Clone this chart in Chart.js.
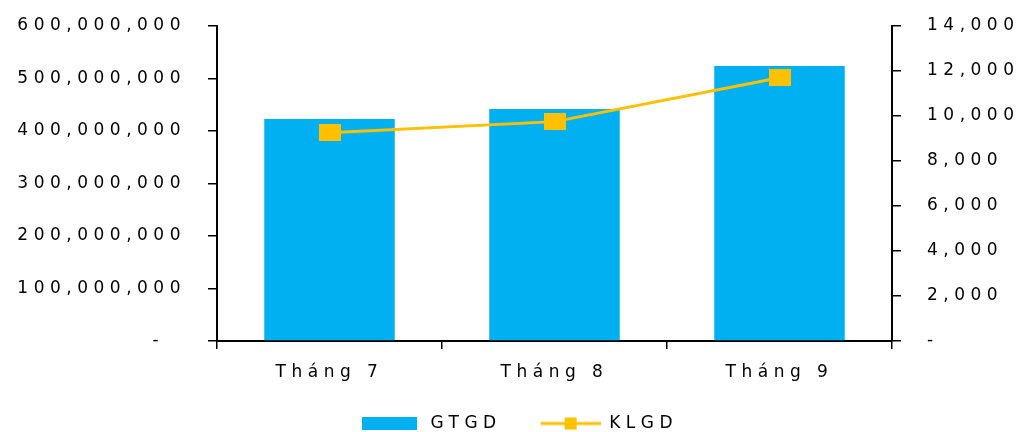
<!DOCTYPE html>
<html>
<head>
<meta charset="utf-8">
<script src="https://cdn.jsdelivr.net/npm/chart.js@4/dist/chart.umd.min.js"></script>
<style>
  html, body { margin: 0; padding: 0; background: #fff; }
</style>
</head>
<body>
<canvas id="chart" width="1024" height="432"></canvas>
<script>
const months = ['Tháng 7', 'Tháng 8', 'Tháng 9'];
const gtgdValues = [423000000, 442000000, 524000000];
const klgdValues = [9260, 9750, 11700];

const BLUE = '#00B0F0';
const GOLD = '#FFC000';
const SPACING = '5.5px';
const SWATCH_W = 76;

Chart.defaults.font.family = 'DejaVu Sans, Arial, sans-serif';
Chart.defaults.font.size = 17;
Chart.defaults.color = '#000';

// small canvases used as marker / legend swatches
function box(w, h, color) {
  const c = document.createElement('canvas');
  c.width = w; c.height = h;
  const g = c.getContext('2d');
  g.fillStyle = color;
  g.fillRect(0, 0, w, h);
  return c;
}
function barSwatch() {
  const c = document.createElement('canvas');
  c.width = SWATCH_W; c.height = 13;
  const g = c.getContext('2d');
  g.fillStyle = BLUE;
  g.fillRect(16, 0, 55, 13);
  return c;
}
function lineSwatch() {
  const c = document.createElement('canvas');
  c.width = SWATCH_W; c.height = 14;
  const g = c.getContext('2d');
  g.strokeStyle = GOLD;
  g.lineWidth = 3;
  g.beginPath();
  g.moveTo(16, 7);
  g.lineTo(SWATCH_W, 7);
  g.stroke();
  g.fillStyle = GOLD;
  g.fillRect(40, 1, 12, 12);
  return c;
}

// the original text is drawn very wide, spread the letters a bit
const wideText = {
  id: 'wideText',
  beforeUpdate(chart) { chart.ctx.letterSpacing = SPACING; },
  beforeDraw(chart) { chart.ctx.letterSpacing = SPACING; }
};

// fixed width for the value axes, and no extra room above the top tick
function sideAxis(width) {
  return s => { s.width = width; s.paddingTop = 0; };
}

const ctx = document.getElementById('chart').getContext('2d');
new Chart(ctx, {
  data: {
    labels: months,
    datasets: [
      {
        type: 'bar',
        label: 'GTGD',
        data: gtgdValues,
        backgroundColor: BLUE,
        yAxisID: 'y',
        order: 1,
        barPercentage: 0.58,
        categoryPercentage: 1
      },
      {
        type: 'line',
        label: 'KLGD',
        data: klgdValues,
        borderColor: GOLD,
        backgroundColor: GOLD,
        borderWidth: 3,
        pointStyle: box(22, 17, GOLD),
        pointRadius: 11,
        yAxisID: 'y1',
        order: 0
      }
    ]
  },
  options: {
    responsive: false,
    animation: false,
    layout: { padding: { top: 26, bottom: -10, left: 0, right: 0 } },
    scales: {
      x: {
        afterFit(s) { s.height = 51; },
        grid: { offset: true, drawOnChartArea: false, tickLength: 8, color: '#000', lineWidth: 1.5 },
        border: { color: '#000', width: 2 },
        ticks: { padding: 13 }
      },
      y: {
        position: 'left',
        min: 0, max: 600000000,
        afterFit: sideAxis(217),
        grid: { drawOnChartArea: false, tickLength: 9, color: '#000', lineWidth: 1.5 },
        border: { color: '#000', width: 2 },
        ticks: {
          stepSize: 100000000, padding: 22,
          callback: v => v === 0 ? '-  ' : v.toLocaleString('en-US')
        }
      },
      y1: {
        position: 'right',
        min: 0, max: 14000,
        afterFit: sideAxis(132),
        grid: { drawOnChartArea: false, tickLength: 9, color: '#000', lineWidth: 1.5 },
        border: { color: '#000', width: 2 },
        ticks: {
          stepSize: 2000, padding: 26,
          callback: v => v === 0 ? '-' : v.toLocaleString('en-US')
        }
      }
    },
    plugins: {
      tooltip: { enabled: false },
      legend: {
        position: 'bottom',
        labels: {
          padding: 23,
          usePointStyle: true,
          pointStyleWidth: SWATCH_W,
          generateLabels(chart) {
            return chart.data.datasets.map((ds, i) => ({
              text: ds.label,
              datasetIndex: i,
              pointStyle: i === 0 ? barSwatch() : lineSwatch(),
              fillStyle: ds.backgroundColor,
              strokeStyle: ds.borderColor || ds.backgroundColor,
              lineWidth: 0,
              hidden: false,
              fontColor: '#000'
            }));
          }
        }
      }
    }
  },
  plugins: [wideText]
});
</script>
</body>
</html>
